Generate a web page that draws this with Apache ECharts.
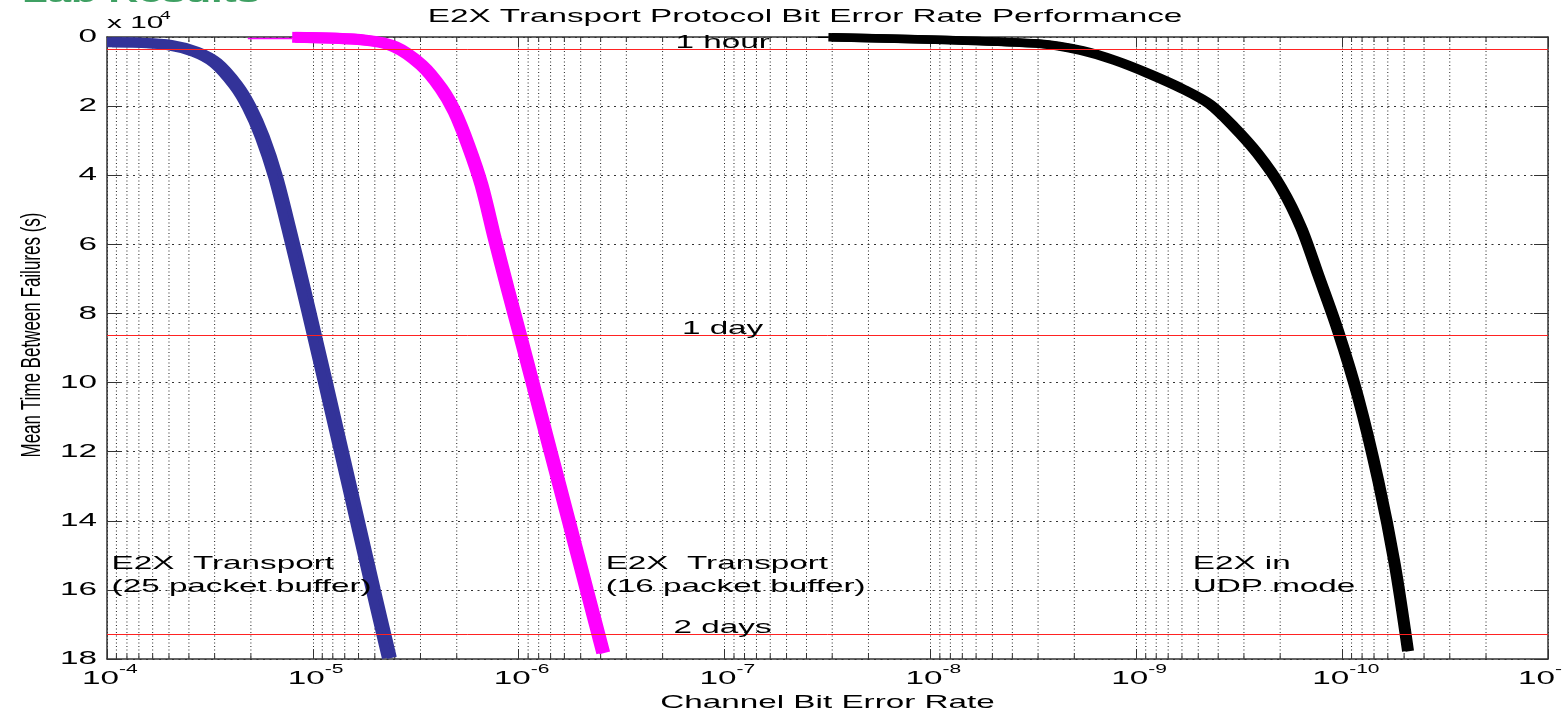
<!DOCTYPE html>
<html>
<head>
<meta charset="utf-8">
<title>E2X Transport Protocol Bit Error Rate Performance</title>
<script src="https://cdn.jsdelivr.net/npm/echarts@6/dist/echarts.min.js"></script>
<style>
  html, body { margin: 0; padding: 0; background: #fff; }
  #chart { width: 1562px; height: 713px; }
</style>
</head>
<body>
<div id="chart"></div>
<script>
// x: channel bit error rate, y: mean time between failures (x 10^4 s)
const blueBer  = [1.0e-4, 7.5e-5, 5.13e-5, 3.82e-5, 3.05e-5, 2.44e-5, 2.10e-5, 1.81e-5, 1.56e-5, 1.34e-5, 1.16e-5, 1.01e-5, 8.93e-6, 7.47e-6, 6.25e-6, 5.23e-6, 4.37e-6];
const blueMtbf = [0.15, 0.16, 0.23, 0.43, 0.75, 1.39, 2.02, 2.89, 4.05, 5.59, 7.13, 8.64, 10.0, 12.0, 14.0, 16.0, 17.97];

const magentaBer  = [1.26e-5, 5.69e-6, 4.07e-6, 3.02e-6, 2.42e-6, 2.08e-6, 1.79e-6, 1.54e-6, 1.33e-6, 1.15e-6, 1.0e-6, 8.71e-7, 7.12e-7, 5.81e-7, 4.75e-7, 3.95e-7];
const magentaMtbf = [0.01, 0.09, 0.28, 0.81, 1.49, 2.17, 3.13, 4.29, 5.83, 7.29, 8.64, 10.0, 12.0, 14.0, 16.0, 17.82];

const blackBer  = [3.13e-8, 8.51e-9, 3.08e-9, 1.88e-9, 1.29e-9, 8.79e-10, 6.04e-10, 4.47e-10, 3.44e-10, 2.63e-10, 2.02e-10, 1.61e-10, 1.33e-10, 1.07e-10, 8.53e-11, 6.81e-11, 5.66e-11, 4.88e-11];
const blackMtbf = [0.01, 0.09, 0.19, 0.39, 0.68, 1.07, 1.51, 1.95, 2.59, 3.37, 4.35, 5.53, 6.90, 8.49, 10.43, 12.84, 15.26, 17.77];

// thin lead-in bits at the top of the magenta and black curves
const magentaLeadBer  = [2.07e-5, 1.26e-5];
const magentaLeadMtbf = [0.04, 0.04];
const blackLeadBer  = [3.52e-8, 3.13e-8];
const blackLeadMtbf = [0.01, 0.01];

// reference lines (1 hour, 1 day, 2 days in units of 10^4 s)
const refLabels = ['1 hour', '1 day', '2 days'];
const refValues = [0.36, 8.64, 17.28];

// axes
const xTickExps = [-4, -5, -6, -7, -8, -9, -10, -11];
const yTicks = [0, 2, 4, 6, 8, 10, 12, 14, 16, 18];
const minorMult = [2, 3, 4, 5, 6, 7, 8, 9];

// curve annotations
const noteLines = [['E2X  Transport', '(25 packet buffer)'], ['E2X  Transport', '(16 packet buffer)'], ['E2X in', 'UDP mode']];
const noteBer = [9.5e-5, 3.78e-7, 5.32e-10];
const noteMtbf = [15.25, 15.25, 15.25];

const FONT = '"Liberation Sans", Arial, Helvetica, sans-serif';
const STRETCH = 1.75;   // the picture is stretched sideways, so is its text

const pairs = (xs, ys) => xs.map((x, i) => [x, ys[i]]);

const minorVals = [];
xTickExps.slice(1).forEach(e => {
  minorMult.forEach(m => minorVals.push([m * Math.pow(10, e), 0]));
});

const chart = echarts.init(document.getElementById('chart'));

const xBase = {
  type: 'log', logBase: 10, min: 1e-11, max: 1e-4, inverse: true,
  axisLine: { show: true, onZero: false, lineStyle: { color: '#333', width: 1.5 } },
  axisTick: { show: true, inside: true, length: 10, lineStyle: { color: '#333' } },
  axisLabel: { show: false },
  splitLine: { show: false }
};
const yBase = {
  type: 'value', inverse: true, min: 0, max: 18, interval: 2,
  axisLine: { show: true, onZero: false, lineStyle: { color: '#333', width: 1.5 } },
  axisTick: { show: true, inside: true, length: 14, lineStyle: { color: '#333' } },
  axisLabel: { show: false },
  splitLine: { show: false }
};

// thick curve; the sideways stretch of the picture makes steep parts wider, a flat shadow copies that
function curve(name, xs, ys, color, width, widen) {
  return {
    name: name, type: 'line', data: pairs(xs, ys), showSymbol: false, smooth: 0.3, z: 4,
    lineStyle: { color: color, width: width, shadowColor: color, shadowBlur: 0, shadowOffsetX: widen }
  };
}

const option = {
  animation: false,
  backgroundColor: '#fff',
  grid: { left: 107, right: 14, top: 37, bottom: 54 },
  xAxis: [
    Object.assign({}, xBase, { position: 'bottom', splitLine: { show: true, lineStyle: { type: [1, 2.5], color: '#222', width: 1 } } }),
    Object.assign({}, xBase, { position: 'top' })
  ],
  yAxis: [
    Object.assign({}, yBase, { position: 'left', splitLine: { show: true, lineStyle: { type: [2, 4.5], color: '#333', width: 1 } } }),
    Object.assign({}, yBase, { position: 'right' })
  ],
  series: [
    {
      // minor log grid lines with their short ticks
      type: 'custom', silent: true, z: 1,
      data: minorVals,
      encode: { x: 0, y: 1 },
      renderItem: function (params, api) {
        const x = api.coord([api.value(0), 0])[0];
        const t = params.coordSys.y, b = params.coordSys.y + params.coordSys.height;
        return {
          type: 'group',
          children: [
            { type: 'line', shape: { x1: x, y1: t, x2: x, y2: b }, style: { stroke: '#222', lineWidth: 1, lineDash: [1, 2.5] } },
            { type: 'line', shape: { x1: x, y1: t, x2: x, y2: t + 5 }, style: { stroke: '#333', lineWidth: 1 } },
            { type: 'line', shape: { x1: x, y1: b, x2: x, y2: b - 5 }, style: { stroke: '#333', lineWidth: 1 } }
          ]
        };
      }
    },
    {
      type: 'line', data: [], silent: true, z: 2,
      markLine: {
        silent: true, symbol: 'none', label: { show: false },
        lineStyle: { color: '#f22', width: 1, type: 'solid' },
        data: refValues.map(v => ({ yAxis: v }))
      }
    },
    { type: 'line', data: pairs(magentaLeadBer, magentaLeadMtbf), showSymbol: false, lineStyle: { color: '#ff00ff', width: 1.5 }, z: 3 },
    { type: 'line', data: pairs(blackLeadBer, blackLeadMtbf), showSymbol: false, lineStyle: { color: '#000', width: 1.5 }, z: 3 },
    curve('25 packet buffer', blueBer, blueMtbf, '#333399', 10, 5),
    curve('16 packet buffer', magentaBer, magentaMtbf, '#ff00ff', 11, 3),
    curve('UDP mode', blackBer, blackMtbf, '#000000', 8.5, 3.5)
  ]
};
chart.setOption(option);

// text: placed with the axes' own scales, stretched like the picture
const px = v => chart.convertToPixel({ xAxisIndex: 0 }, v);
const py = v => chart.convertToPixel({ yAxisIndex: 0 }, v);

function txt(text, x, y, size, align, extra) {
  return Object.assign({
    type: 'text', x: x, y: y, scaleX: STRETCH, silent: true, z: 100,
    style: {
      text: text, fill: '#000', fontSize: size, fontFamily: FONT,
      align: align, textAlign: align, verticalAlign: 'middle', textVerticalAlign: 'middle'
    }
  }, extra || {});
}

const plotLeft = px(1e-4), plotRight = px(1e-11), plotTop = py(0), plotBottom = py(18);
const els = [];

const lab = txt('Lab Results', 22, -4.6, 24, 'left');
lab.style.fill = '#3fa063';
lab.style.fontWeight = 'bold';
els.push(lab);

els.push(txt('E2X Transport Protocol Bit Error Rate Performance', 805, 17, 19, 'center'));

yTicks.forEach(v => els.push(txt(String(v), plotLeft - 10, py(v), 19, 'right')));

xTickExps.forEach(e => {
  const x = px(Math.pow(10, e));
  const split = x + (String(e).length > 2 ? 7 : 12);
  els.push(txt('10', split, plotBottom + 20, 19, 'right'));
  els.push(txt(String(e), split, plotBottom + 11, 12, 'left'));
});

els.push(txt('x 10', plotLeft, plotTop - 14, 17, 'left'));
els.push(txt('4', plotLeft + 53, plotTop - 21, 11, 'left'));

els.push(txt('Channel Bit Error Rate', (plotLeft + plotRight) / 2, plotBottom + 44, 19, 'center'));
els.push(txt('Mean Time Between Failures (s)', 32, (plotTop + plotBottom) / 2 - 13, 17, 'center',
  { scaleX: 1, scaleY: 1.6, rotation: Math.PI / 2 }));

refLabels.forEach((t, i) => els.push(txt(t, px(1e-7) - 2, py(refValues[i]) - 6.5, 19, 'center')));

noteLines.forEach((lines, i) => {
  const x = px(noteBer[i]), y = py(noteMtbf[i]);
  els.push(txt(lines[0], x, y, 19, 'left'));
  els.push(txt(lines[1], x, y + 23, 19, 'left'));
});

chart.setOption({ graphic: { elements: els } });
</script>
</body>
</html>
